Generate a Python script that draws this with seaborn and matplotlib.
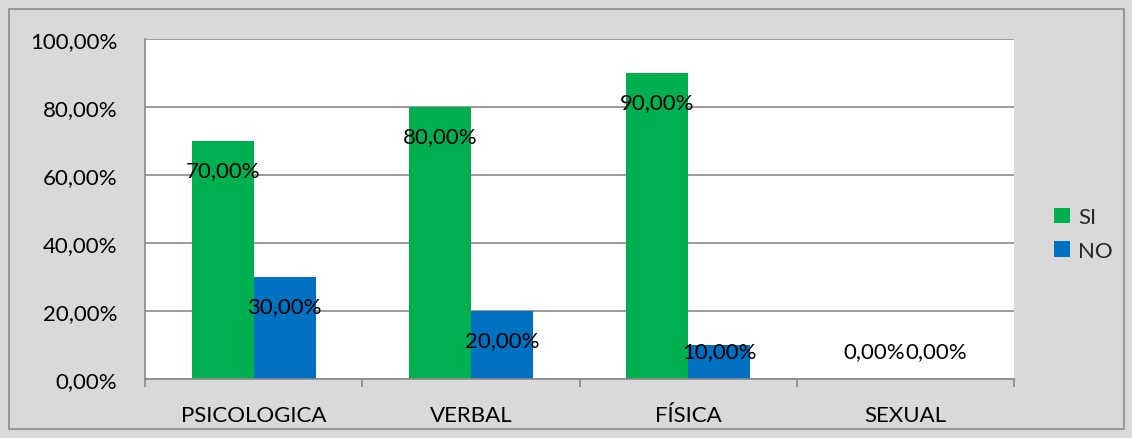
import matplotlib
matplotlib.use("Agg")
import matplotlib.pyplot as plt
import seaborn as sns
import pandas as pd
from matplotlib.patches import Rectangle
from matplotlib.ticker import FixedLocator, FuncFormatter

categories = ["PSICOLOGICA", "VERBAL", "FÍSICA", "SEXUAL"]
series = ["SI", "NO"]
si_values = [70.0, 80.0, 90.0, 0.0]
no_values = [30.0, 20.0, 10.0, 0.0]
colors = {"SI": "#00B050", "NO": "#0070C0"}

rows = []
for c, s, n in zip(categories, si_values, no_values):
    rows.append({"cat": c, "serie": "SI", "val": s})
    rows.append({"cat": c, "serie": "NO", "val": n})
df = pd.DataFrame(rows)

sns.set_theme(style="white")
plt.rcParams["font.family"] = ["Lato", "DejaVu Sans"]

W, H = 1132, 439
fig = plt.figure(figsize=(W / 100, H / 100), dpi=100)
fig.patch.set_facecolor("#D9D9D9")
ax_h_px = 340
ax = fig.add_axes([145 / W, 59 / H, 869 / W, ax_h_px / H])
ax.set_facecolor("white")

sns.barplot(data=df, x="cat", y="val", hue="serie", order=categories,
            hue_order=series, palette=colors, width=0.57, saturation=1,
            linewidth=0, ax=ax, legend=True)

ax.set_xlim(-0.5, 3.5)
ax.set_ylim(0, 100)
ax.set_xlabel("")
ax.set_ylabel("")

gridc = "#898989"
ax.yaxis.set_major_locator(FixedLocator([0, 20, 40, 60, 80, 100]))
ax.yaxis.set_major_formatter(FuncFormatter(lambda v, p: f"{v:.2f}".replace(".", ",") + "%"))
ax.grid(axis="y", color=gridc, linewidth=1.2)
ax.set_axisbelow(True)
for sp in ["top", "right"]:
    ax.spines[sp].set_visible(False)
for sp in ["left", "bottom"]:
    ax.spines[sp].set_color(gridc)
    ax.spines[sp].set_linewidth(1.2)

fs = 16
ax.tick_params(axis="y", length=6, width=1.2, color=gridc, pad=14, labelsize=fs, labelcolor="black")
ax.tick_params(axis="x", which="major", length=0, pad=19, labelsize=fs, labelcolor="black")
ax.set_xticks(range(len(categories)))
ax.set_xticklabels(categories)
ax.xaxis.set_minor_locator(FixedLocator([-0.5, 0.5, 1.5, 2.5, 3.5]))
ax.tick_params(axis="x", which="minor", length=6, width=1.2, color=gridc, bottom=True)

px_per_unit = ax_h_px / 100.0
for cont in ax.containers:
    for bar in cont:
        h = bar.get_height()
        x = bar.get_x() + bar.get_width() / 2
        lab = f"{h:.2f}".replace(".", ",") + "%"
        ypos = max(h - 29 / px_per_unit, 28 / px_per_unit)
        ax.text(x, ypos, lab, ha="center", va="center", fontsize=fs, color="black")

handles, labels = ax.get_legend_handles_labels()
ax.get_legend().remove()
fig.legend(handles, labels, loc="center left", bbox_to_anchor=(1054 / W, (H - 235) / H),
           frameon=False, fontsize=fs, handlelength=0.7, handleheight=0.7,
           handletextpad=0.4, labelspacing=0.6, borderaxespad=0, borderpad=0)

fig.patches.append(Rectangle((9 / W, 9 / H), 1115 / W, 420 / H, transform=fig.transFigure,
                             fill=False, edgecolor="#8C8C8C", linewidth=1.2))

fig.savefig("out.png", dpi=100, facecolor=fig.get_facecolor())
